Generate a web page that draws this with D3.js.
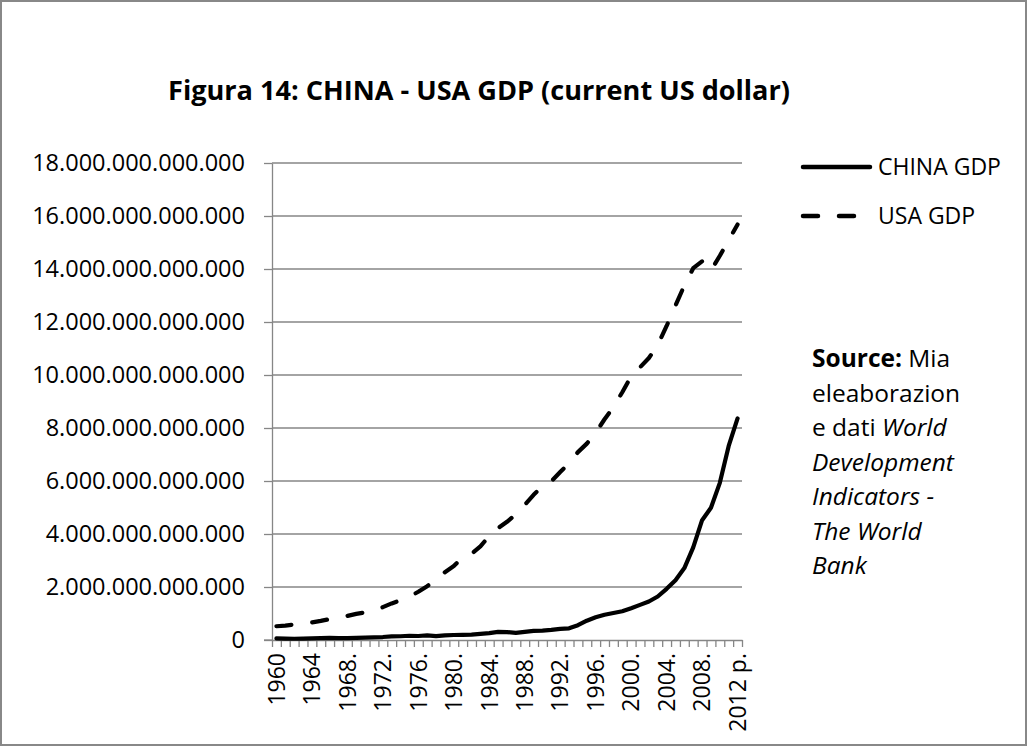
<!DOCTYPE html>
<html>
<head>
<meta charset="utf-8">
<script src="https://cdn.jsdelivr.net/npm/d3@7"></script>
<style>
  html, body { margin: 0; padding: 0; background: #fff; }
  svg { display: block; }
  text { font-family: "Open Sans", "Noto Sans", sans-serif; fill: #000; }
</style>
</head>
<body>
<svg id="chart" width="1028" height="747"></svg>
<script>
// Years on the category axis (1960–2012)
const years = d3.range(1960, 2013);

// Axis labels shown under every fourth year
const yearLabels = ["1960", "1964", "1968.", "1972.", "1976.", "1980.", "1984.",
                    "1988.", "1992.", "1996.", "2000.", "2004.", "2008.", "2012 p."];

// China GDP, current US$
const chinaGDP = [
  0.0597e12, 0.0500e12, 0.0472e12, 0.0507e12, 0.0597e12, 0.0704e12, 0.0767e12, 0.0721e12,
  0.0700e12, 0.0789e12, 0.0915e12, 0.0986e12, 0.1122e12, 0.1367e12, 0.1422e12, 0.1611e12,
  0.1516e12, 0.1725e12, 0.1482e12, 0.1766e12, 0.1894e12, 0.1941e12, 0.2031e12, 0.2285e12,
  0.2577e12, 0.3070e12, 0.2979e12, 0.2703e12, 0.3095e12, 0.3440e12, 0.3566e12, 0.3794e12,
  0.4227e12, 0.4406e12, 0.5592e12, 0.7280e12, 0.8560e12, 0.9527e12, 1.0195e12, 1.0833e12,
  1.1985e12, 1.3248e12, 1.4538e12, 1.6410e12, 1.9316e12, 2.2569e12, 2.7130e12, 3.4940e12,
  4.5218e12, 4.9913e12, 5.9305e12, 7.3219e12, 8.3600e12
];

// USA GDP, current US$
const usaGDP = [
  0.520e12, 0.544e12, 0.585e12, 0.617e12, 0.663e12, 0.720e12, 0.788e12, 0.832e12,
  0.910e12, 0.985e12, 1.040e12, 1.130e12, 1.240e12, 1.380e12, 1.500e12, 1.640e12,
  1.820e12, 2.030e12, 2.290e12, 2.560e12, 2.790e12, 3.130e12, 3.250e12, 3.530e12,
  3.930e12, 4.220e12, 4.460e12, 4.740e12, 5.100e12, 5.480e12, 5.800e12, 5.990e12,
  6.340e12, 6.670e12, 7.090e12, 7.410e12, 7.820e12, 8.330e12, 8.790e12, 9.350e12,
  9.950e12, 10.290e12, 10.640e12, 11.140e12, 11.850e12, 12.620e12, 13.380e12, 14.030e12,
  14.290e12, 13.940e12, 14.500e12, 15.090e12, 15.680e12
];

const seriesNames = ["CHINA GDP", "USA GDP"];
const yTicks = d3.range(0, 18e12 + 1, 2e12);

const svg = d3.select("#chart");
const W = 1028, H = 747;
const plot = { left: 272, right: 742, top: 163, bottom: 640 };
const gridColor = "#868686";

// Outer chart frame
svg.append("rect")
  .attr("x", 1).attr("y", 1).attr("width", W - 3).attr("height", H - 3)
  .attr("fill", "#fff").attr("stroke", "#888").attr("stroke-width", 2);

// Scales: category index axis (points at band centres) and value axis
const xIdx = d3.scaleLinear().domain([0, years.length]).range([plot.left, plot.right]);
const y = d3.scaleLinear().domain([0, 18e12]).range([plot.bottom, plot.top]);

const it = d3.formatLocale({ decimal: ",", thousands: ".", grouping: [3], currency: ["", ""] });
const fmt = it.format(",.0f");

// Horizontal gridlines
svg.append("g")
  .selectAll("line")
  .data(yTicks.filter(d => d > 0))
  .join("line")
  .attr("x1", plot.left).attr("x2", plot.right)
  .attr("y1", d => y(d)).attr("y2", d => y(d))
  .attr("stroke", gridColor).attr("stroke-width", 1.3);

// Value axis
const yAxis = svg.append("g")
  .attr("transform", `translate(${plot.left},0)`)
  .call(d3.axisLeft(y).tickValues(yTicks).tickFormat(fmt).tickSize(8).tickPadding(19).tickSizeOuter(0));
yAxis.select(".domain").attr("stroke", gridColor).attr("stroke-width", 1.3);
yAxis.selectAll(".tick line").attr("stroke", gridColor).attr("stroke-width", 1.3);
yAxis.selectAll(".tick text")
  .style("font-family", '"Open Sans", sans-serif').style("font-size", "23.5px").attr("fill", "#000");

// Category axis: tick marks at category boundaries
const xAxis = svg.append("g")
  .attr("transform", `translate(0,${plot.bottom})`)
  .call(d3.axisBottom(xIdx).tickValues(d3.range(years.length + 1)).tickFormat("").tickSize(7).tickSizeOuter(0));
xAxis.select(".domain").attr("stroke", gridColor).attr("stroke-width", 1.3);
xAxis.selectAll(".tick line").attr("stroke", gridColor).attr("stroke-width", 1.3);
// axis line continues slightly left of the value axis
svg.append("line")
  .attr("x1", plot.left - 8).attr("x2", plot.left)
  .attr("y1", plot.bottom).attr("y2", plot.bottom)
  .attr("stroke", gridColor).attr("stroke-width", 1.3);

// Rotated year labels
const labelIdx = d3.range(0, years.length, 4);
svg.append("g")
  .selectAll("text")
  .data(labelIdx)
  .join("text")
  .attr("transform", (d) => `translate(${xIdx(d + 0.5)},${plot.bottom + 13}) rotate(-90)`)
  .attr("text-anchor", "end")
  .attr("dy", "0.36em")
  .style("font-size", "23px")
  .text((d, i) => yearLabels[i]);

// Series lines
const line = d3.line()
  .x((d, i) => xIdx(i + 0.5))
  .y(d => y(d));

svg.append("path")
  .datum(usaGDP)
  .attr("d", line)
  .attr("fill", "none").attr("stroke", "#000").attr("stroke-width", 4.2)
  .attr("stroke-linecap", "round").attr("stroke-linejoin", "round")
  .attr("stroke-dasharray", "15,21");

svg.append("path")
  .datum(chinaGDP)
  .attr("d", line)
  .attr("fill", "none").attr("stroke", "#000").attr("stroke-width", 4.2)
  .attr("stroke-linecap", "round").attr("stroke-linejoin", "round");

// Legend
const legend = svg.append("g");
const legendRows = [
  { name: seriesNames[0], y: 167, dash: null },
  { name: seriesNames[1], y: 216, dash: "15,21" }
];
legendRows.forEach(r => {
  legend.append("line")
    .attr("x1", 803).attr("x2", 870).attr("y1", r.y).attr("y2", r.y)
    .attr("stroke", "#000").attr("stroke-width", 4.5).attr("stroke-linecap", "round")
    .attr("stroke-dasharray", r.dash);
  legend.append("text")
    .attr("x", 878).attr("y", r.y).attr("dy", "0.36em")
    .style("font-size", "23px")
    .text(r.name);
});

// Source note
const note = svg.append("g").style("font-size", "24.5px");
const noteLines = [
  [{ t: "Source:", b: true }, { t: " Mia" }],
  [{ t: "eleaborazion" }],
  [{ t: "e dati " }, { t: "World", i: true }],
  [{ t: "Development", i: true }],
  [{ t: "Indicators -", i: true }],
  [{ t: "The World", i: true }],
  [{ t: "Bank", i: true }]
];
noteLines.forEach((parts, k) => {
  const tx = note.append("text").attr("x", 812).attr("y", 367 + k * 34.5).attr("xml:space", "preserve");
  parts.forEach(p => {
    tx.append("tspan")
      .style("font-weight", p.b ? "bold" : "normal")
      .style("font-style", p.i ? "italic" : "normal")
      .text(p.t);
  });
});

// Title
const title = svg.append("text")
  .attr("x", 479).attr("y", 100)
  .attr("text-anchor", "middle")
  .style("font-weight", "bold").style("font-size", "28px")
  .text("Figura 14: CHINA - USA GDP (current US dollar)");
const tw = title.node().getComputedTextLength();
title.style("font-size", (28 * 622 / tw).toFixed(2) + "px");
</script>
</body>
</html>
